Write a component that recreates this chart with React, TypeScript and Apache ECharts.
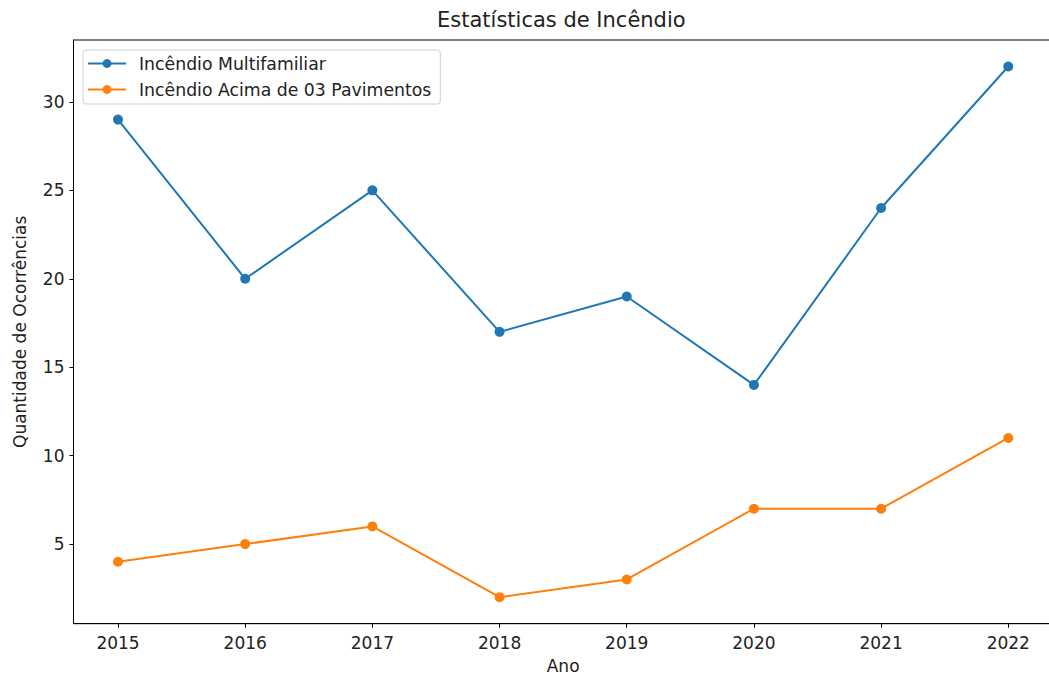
import React, { useEffect, useRef } from "react";
import * as echarts from "echarts";

const years = [2015, 2016, 2017, 2018, 2019, 2020, 2021, 2022];
const multifamiliar = [29, 20, 25, 17, 19, 14, 24, 32];
const acima03 = [4, 5, 6, 2, 3, 7, 7, 11];
const yTicks = [5, 10, 15, 20, 25, 30];

const FONT = "DejaVu Sans";
const TXT = "#222";

export default function App() {
  const ref = useRef<HTMLDivElement>(null);
  useEffect(() => {
    if (!ref.current) return;
    const chart = echarts.init(ref.current, null, { renderer: "svg" });
    chart.setOption({
      animation: false,
      backgroundColor: "#fff",
      textStyle: { fontFamily: FONT },
      title: {
        text: "Estatísticas de Incêndio",
        left: 437,
        top: 9,
        padding: 0,
        textStyle: { fontFamily: FONT, fontSize: 21, fontWeight: "normal", color: TXT },
      },
      legend: {
        left: 83,
        top: 50,
        orient: "vertical",
        itemWidth: 38,
        itemHeight: 11,
        itemGap: 9,
        padding: [5, 9, 6, 4],
        backgroundColor: "rgba(255,255,255,0.8)",
        borderColor: "#d0d0d0",
        borderWidth: 1,
        borderRadius: 3,
        textStyle: { fontFamily: FONT, fontSize: 17.3, color: TXT, padding: [0, 0, 0, 8] },
        data: ["Incêndio Multifamiliar", "Incêndio Acima de 03 Pavimentos"],
      },
      grid: {
        left: 73.5,
        width: 979.3,
        top: 40,
        height: 583.7,
        outerBoundsMode: "none",
        containLabel: false,
        show: true,
        borderColor: "#000",
        borderWidth: 1,
      },
      xAxis: {
        type: "value",
        min: 2014.65,
        max: 2022.35,
        name: "Ano",
        nameLocation: "middle",
        nameGap: 34,
        nameTextStyle: { fontFamily: FONT, fontSize: 17, color: TXT, lineHeight: 17 },
        axisLine: { show: true, lineStyle: { color: "#000", width: 1 } },
        axisTick: { show: true, length: 4, customValues: years, lineStyle: { color: "#000" } },
        splitLine: { show: false },
        axisLabel: {
          customValues: years,
          margin: 11,
          fontFamily: FONT,
          fontSize: 17,
          color: TXT,
          formatter: (v: number) => String(v),
        },
      },
      yAxis: {
        type: "value",
        min: 0.5,
        max: 33.5,
        name: "Quantidade de Ocorrências",
        nameLocation: "middle",
        nameGap: 45,
        nameTextStyle: { fontFamily: FONT, fontSize: 17, color: TXT },
        axisLine: { show: true, lineStyle: { color: "#000", width: 1 } },
        axisTick: { show: true, length: 4, customValues: yTicks, lineStyle: { color: "#000" } },
        splitLine: { show: false },
        axisLabel: {
          customValues: yTicks,
          margin: 9,
          fontFamily: FONT,
          fontSize: 17,
          color: TXT,
          formatter: (v: number) => String(v),
        },
      },
      series: [
        {
          name: "Incêndio Multifamiliar",
          type: "line",
          data: years.map((y, i) => [y, multifamiliar[i]]),
          symbol: "circle",
          symbolSize: 10,
          color: "#1f77b4",
          lineStyle: { width: 2, color: "#1f77b4" },
          itemStyle: { color: "#1f77b4" },
        },
        {
          name: "Incêndio Acima de 03 Pavimentos",
          type: "line",
          data: years.map((y, i) => [y, acima03[i]]),
          symbol: "circle",
          symbolSize: 10,
          color: "#ff7f0e",
          lineStyle: { width: 2, color: "#ff7f0e" },
          itemStyle: { color: "#ff7f0e" },
        },
      ],
    });
    return () => chart.dispose();
  }, []);
  return (
    <div
      ref={ref}
      style={{ position: "absolute", left: 0, top: 0, width: 1049, height: 676 }}
    />
  );
}
